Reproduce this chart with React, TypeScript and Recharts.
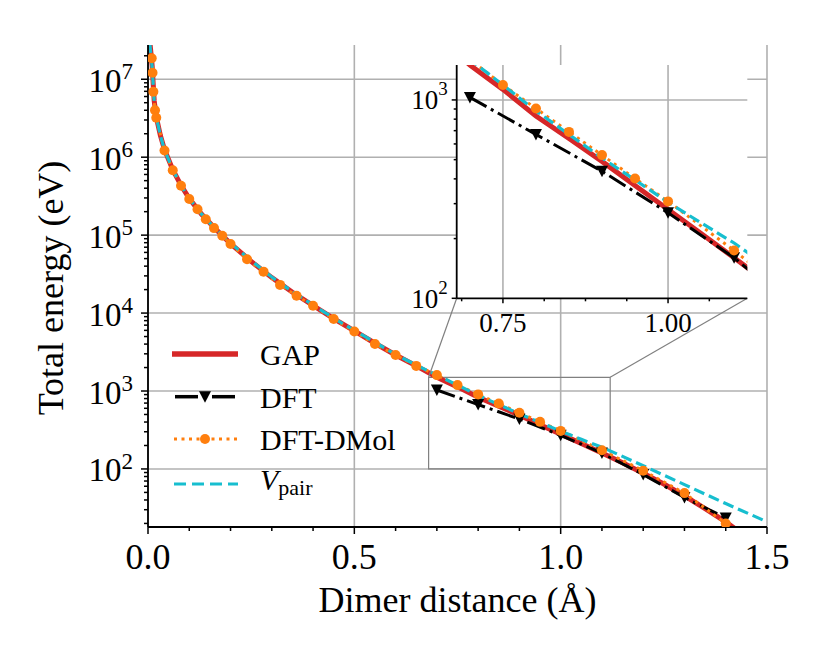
import React from "react";
import {
  ComposedChart,
  Line,
  XAxis,
  YAxis,
  CartesianGrid,
  ReferenceArea,
  ReferenceLine,
  Legend,
} from "recharts";

const SERIF = '"Liberation Serif", "Times New Roman", Times, serif';

// distance in Å, energy in eV
const gapDistance = [0.004, 0.01, 0.015, 0.02, 0.03, 0.04, 0.06, 0.08, 0.1, 0.13, 0.16, 0.2, 0.25, 0.3, 0.35, 0.4, 0.45, 0.5, 0.55, 0.6, 0.65, 0.7, 0.75, 0.8, 0.85, 0.9, 0.95, 1.0, 1.05, 1.1, 1.15, 1.2, 1.25, 1.3, 1.35, 1.4, 1.43];
const gapEnergy = [3.2e7, 1.5e7, 5.3e6, 3.3e6, 1.9e6, 1.25e6, 6.9e5, 4.35e5, 2.95e5, 1.85e5, 1.25e5, 7.8e4, 4.6e4, 2.85e4, 1.85e4, 1.25e4, 8.5e3, 5.9e3, 4.1e3, 2.9e3, 2.1e3, 1.5e3, 1.13e3, 830, 640, 490, 370, 280, 212, 160, 120, 88, 64, 45, 31, 21, 16];

const dftDistance = [0.7, 0.8, 0.9, 1.0, 1.1, 1.2, 1.3, 1.4];
const dftEnergy = [1030, 670, 437, 270, 160, 85, 43, 23.5];

const dmolDistance = [0.009, 0.011, 0.013, 0.017, 0.02, 0.04, 0.06, 0.08, 0.1, 0.12, 0.14, 0.16, 0.18, 0.2, 0.24, 0.28, 0.32, 0.36, 0.4, 0.45, 0.5, 0.55, 0.6, 0.65, 0.7, 0.75, 0.8, 0.85, 0.9, 0.95, 1.0, 1.1, 1.2, 1.3, 1.4];
const dmolEnergy = [1.86e7, 1.21e7, 6.9e6, 4.0e6, 3.2e6, 1.22e6, 6.8e5, 4.3e5, 2.9e5, 2.15e5, 1.6e5, 1.23e5, 9.8e4, 7.7e4, 4.9e4, 3.4e4, 2.3e4, 1.67e4, 1.24e4, 8.4e3, 5.8e3, 4.0e3, 2.9e3, 2.1e3, 1.6e3, 1.19e3, 905, 690, 527, 402, 308, 174, 95, 49, 20];

const vpairDistance = [0.004, 0.01, 0.015, 0.02, 0.03, 0.04, 0.06, 0.08, 0.1, 0.13, 0.16, 0.2, 0.25, 0.3, 0.35, 0.4, 0.45, 0.5, 0.55, 0.6, 0.65, 0.7, 0.75, 0.8, 0.85, 0.9, 0.95, 1.0, 1.05, 1.1, 1.15, 1.2, 1.3, 1.4, 1.5];
const vpairEnergy = [3.0e7, 1.45e7, 5.2e6, 3.3e6, 1.9e6, 1.24e6, 6.9e5, 4.35e5, 2.95e5, 1.86e5, 1.26e5, 7.9e4, 4.7e4, 2.9e4, 1.88e4, 1.27e4, 8.6e3, 6.0e3, 4.2e3, 2.95e3, 2.15e3, 1.6e3, 1.19e3, 880, 670, 510, 395, 305, 240, 190, 145, 110, 63, 36, 21];

const distanceTicks = [0, 0.1, 0.2, 0.3, 0.4, 0.5, 0.6, 0.7, 0.8, 0.9, 1.0, 1.1, 1.2, 1.3, 1.4, 1.5];
const distanceMajor = [0, 0.5, 1.0, 1.5];
const energyMajor = [1e2, 1e3, 1e4, 1e5, 1e6, 1e7];

const zoomDistanceTicks = [0.6875, 0.75, 0.8125, 0.875, 0.9375, 1.0, 1.0625];
const zoomDistanceMajor = [0.75, 1.0];
const zoomEnergyTicks = [100, 200, 300, 400, 500, 600, 700, 800, 900, 1000];
const zoomEnergyMajor = [100, 1000];

const distanceDomain = [0, 1.5];
const energyDomain = [18, 2.75e7];
const zoomDistanceDomain = [0.68, 1.12];
const zoomEnergyDomain = [100, 1500];

const zip = (xs: number[], ys: number[]) => xs.map((d, i) => ({ d, e: ys[i] }));
const gapData = zip(gapDistance, gapEnergy);
const dftData = zip(dftDistance, dftEnergy);
const dmolData = zip(dmolDistance, dmolEnergy);
const vpairData = zip(vpairDistance, vpairEnergy);

// log minor ticks 2..9 per decade inside the domain
const energyTicks = [1e1, 1e2, 1e3, 1e4, 1e5, 1e6, 1e7]
  .flatMap((dec) => [1, 2, 3, 4, 5, 6, 7, 8, 9].map((m) => m * dec))
  .filter((v) => v >= energyDomain[0] && v <= energyDomain[1]);

// layout of the main plot box and the inset box (page pixels)
const MAIN = { left: 148, top: 45, right: 767, bottom: 527 };
const INSET = { left: 380, top: 40, width: 400, height: 310, plotLeft: 456.7, plotTop: 65, plotRight: 747.3, plotBottom: 298.3 };

const mainX = (px: number) =>
  distanceDomain[0] + ((px - MAIN.left) / (MAIN.right - MAIN.left)) * (distanceDomain[1] - distanceDomain[0]);
const mainY = (py: number) => {
  const lo = Math.log10(energyDomain[0]);
  const hi = Math.log10(energyDomain[1]);
  return Math.pow(10, hi - ((py - MAIN.top) / (MAIN.bottom - MAIN.top)) * (hi - lo));
};

const near = (list: number[], v: number) => list.some((m) => Math.abs(m - v) < 1e-9 * Math.max(1, Math.abs(m)));

const bottomTick = (majors: number[], fmt: (v: number) => string, fontSize: number, majorLen: number, minorLen: number, baseline: number) =>
  (props: any) => {
    const { x, y, payload } = props;
    const v = payload.value;
    const major = near(majors, v);
    return (
      <g>
        <line x1={x} x2={x} y1={y} y2={y + (major ? majorLen : minorLen)} stroke="#000" strokeWidth={1.5} />
        {major && (
          <text x={x} y={y + baseline} textAnchor="middle" fontFamily={SERIF} fontSize={fontSize} fill="#000">
            {fmt(v)}
          </text>
        )}
      </g>
    );
  };

const leftLogTick = (majors: number[], baseSize: number, supSize: number, majorLen: number, minorLen: number, gap: number, base: number, sup: number) =>
  (props: any) => {
    const { x, y, payload } = props;
    const v = payload.value;
    const major = near(majors, v);
    return (
      <g>
        <line x1={x} x2={x - (major ? majorLen : minorLen)} y1={y} y2={y} stroke="#000" strokeWidth={1.5} />
        {major && (
          <text x={x - gap} y={y + base} textAnchor="end" fontFamily={SERIF} fill="#000">
            <tspan fontSize={baseSize}>10</tspan>
            <tspan fontSize={supSize} dy={sup - base}>{Math.round(Math.log10(v))}</tspan>
          </text>
        )}
      </g>
    );
  };

const triangleDot = (props: any) => {
  const { cx, cy, index } = props;
  if (cx == null || cy == null) return <g key={index} />;
  return <path key={index} d={`M${cx - 6},${cy - 5.5} L${cx + 6},${cy - 5.5} L${cx},${cy + 6} Z`} fill="#000" />;
};

const circleDot = (props: any) => {
  const { cx, cy, index } = props;
  if (cx == null || cy == null) return <g key={index} />;
  return <circle key={index} cx={cx} cy={cy} r={5} fill="#ff7f0e" />;
};

const XTitle = (props: any) => {
  const vb = props.viewBox || { x: 148, y: 527, width: 619 };
  return (
    <text x={vb.x + vb.width / 2} y={vb.y + 85} textAnchor="middle" fontFamily={SERIF} fontSize={36} fill="#000">
      Dimer distance (Å)
    </text>
  );
};

const YTitle = (props: any) => {
  const vb = props.viewBox || { y: 45, height: 482 };
  const cy = vb.y + vb.height / 2 + 2;
  return (
    <text x={63} y={cy} transform={`rotate(-90, 63, ${cy})`} textAnchor="middle" fontFamily={SERIF} fontSize={36} fill="#000">
      Total energy (eV)
    </text>
  );
};

const legendText = { fontFamily: SERIF, fontSize: 30, fill: "#000" };

const LegendBox = () => (
  <svg width={260} height={180} style={{ overflow: "visible", fontFamily: SERIF }}>
    <line x1={12} x2={78} y1={24} y2={24} stroke="#d62728" strokeWidth={5.5} />
    <text x={100} y={35} style={legendText}>GAP</text>

    <line x1={15} x2={38} y1={66.7} y2={66.7} stroke="#000" strokeWidth={3.5} />
    <line x1={52} x2={75} y1={66.7} y2={66.7} stroke="#000" strokeWidth={3.5} />
    <path d="M39,61.2 L51,61.2 L45,72.7 Z" fill="#000" />
    <text x={100} y={77.7} style={legendText}>DFT</text>

    <line x1={14} x2={78} y1={109} y2={109} stroke="#ff7f0e" strokeWidth={3} strokeDasharray="3 4.5" />
    <circle cx={45} cy={109} r={5} fill="#ff7f0e" />
    <text x={100} y={120} style={legendText}>DFT-DMol</text>

    <line x1={14} x2={78} y1={154} y2={154} stroke="#17becf" strokeWidth={3.2} strokeDasharray="12 6" />
    <text x={100} y={159.5} style={legendText}>
      <tspan fontStyle="italic">V</tspan>
      <tspan fontSize={22} dy={5.5}>pair</tspan>
    </text>
  </svg>
);

const seriesLines = () => [
  <Line key="gap" data={gapData} dataKey="e" name="GAP" type="linear" stroke="#d62728" strokeWidth={5} dot={false} isAnimationActive={false} />,
  <Line key="dft" data={dftData} dataKey="e" name="DFT" type="linear" stroke="#000" strokeWidth={3} strokeDasharray="19 5 3 5" dot={triangleDot} activeDot={false} isAnimationActive={false} />,
  <Line key="dmol" data={dmolData} dataKey="e" name="DFT-DMol" type="linear" stroke="#ff7f0e" strokeWidth={3} strokeDasharray="3 4.5" dot={circleDot} activeDot={false} isAnimationActive={false} />,
  <Line key="vpair" data={vpairData} dataKey="e" name="Vpair" type="linear" stroke="#17becf" strokeWidth={3.2} strokeDasharray="11 5" dot={false} isAnimationActive={false} />,
];

const spine = { stroke: "#000", strokeWidth: 1.8 };

export default function App() {
  return (
    <div style={{ position: "absolute", left: 0, top: 0, width: 830, height: 664, background: "#fff", fontFamily: SERIF }}>
      <ComposedChart width={830} height={664} margin={{ top: MAIN.top, right: 830 - MAIN.right, bottom: 0, left: 0 }}>
        <CartesianGrid horizontalValues={energyMajor} verticalValues={distanceMajor} stroke="#b0b0b0" strokeWidth={1.6} />
        <XAxis
          dataKey="d"
          type="number"
          domain={distanceDomain}
          allowDataOverflow
          ticks={distanceTicks}
          interval={0}
          height={664 - MAIN.bottom}
          tickSize={0}
          tickMargin={0}
          tickLine={false}
          axisLine={spine}
          tick={bottomTick(distanceMajor, (v) => v.toFixed(1), 36, 7, 4, 42)}
          label={<XTitle />}
        />
        <YAxis
          type="number"
          scale="log"
          domain={energyDomain}
          allowDataOverflow
          ticks={energyTicks}
          interval={0}
          width={MAIN.left}
          tickSize={0}
          tickMargin={0}
          tickLine={false}
          axisLine={spine}
          tick={leftLogTick(energyMajor, 33, 23, 7, 4, 15, 12.5, 0)}
          label={<YTitle />}
        />
        <XAxis xAxisId="top" orientation="top" type="number" domain={distanceDomain} allowDataOverflow height={0} tick={false} tickLine={false} axisLine={spine} />
        <YAxis yAxisId="right" orientation="right" type="number" domain={[0, 1]} width={0} tick={false} tickLine={false} axisLine={spine} />
        {seriesLines()}
        <ReferenceArea
          x1={zoomDistanceDomain[0]}
          x2={zoomDistanceDomain[1]}
          y1={zoomEnergyDomain[0]}
          y2={zoomEnergyDomain[1]}
          fill="none"
          stroke="#808080"
          strokeWidth={1.2}
          ifOverflow="visible"
        />
        <ReferenceLine
          segment={[
            { x: zoomDistanceDomain[0], y: zoomEnergyDomain[1] },
            { x: mainX(INSET.plotLeft), y: mainY(INSET.plotBottom) },
          ]}
          stroke="#808080"
          strokeWidth={1.2}
          ifOverflow="visible"
        />
        <ReferenceLine
          segment={[
            { x: zoomDistanceDomain[1], y: zoomEnergyDomain[1] },
            { x: mainX(INSET.plotRight), y: mainY(INSET.plotBottom) },
          ]}
          stroke="#808080"
          strokeWidth={1.2}
          ifOverflow="visible"
        />
        <Legend
          layout="vertical"
          align="center"
          verticalAlign="middle"
          wrapperStyle={{ left: 160, top: 330, width: 260, height: 180 }}
          content={() => <LegendBox />}
        />
      </ComposedChart>

      <div style={{ position: "absolute", left: INSET.left, top: INSET.top }}>
        <ComposedChart
          width={INSET.width}
          height={INSET.height}
          margin={{ top: INSET.plotTop - INSET.top, right: INSET.left + INSET.width - INSET.plotRight, bottom: 0, left: 0 }}
        >
          <CartesianGrid
            fill="#fff"
            fillOpacity={1}
            horizontalValues={[1000]}
            verticalValues={zoomDistanceMajor}
            stroke="#b0b0b0"
            strokeWidth={1.6}
          />
          <XAxis
            dataKey="d"
            type="number"
            domain={zoomDistanceDomain}
            allowDataOverflow
            ticks={zoomDistanceTicks}
            interval={0}
            height={INSET.top + INSET.height - INSET.plotBottom}
            tickSize={0}
            tickMargin={0}
            tickLine={false}
            axisLine={spine}
            tick={bottomTick(zoomDistanceMajor, (v) => v.toFixed(2), 27, 5, 3, 34)}
          />
          <YAxis
            type="number"
            scale="log"
            domain={zoomEnergyDomain}
            allowDataOverflow
            ticks={zoomEnergyTicks}
            interval={0}
            width={INSET.plotLeft - INSET.left}
            tickSize={0}
            tickMargin={0}
            tickLine={false}
            axisLine={spine}
            tick={leftLogTick(zoomEnergyMajor, 27, 19, 5, 3, 9, 9.5, -4.5)}
          />
          <XAxis xAxisId="top" orientation="top" type="number" domain={zoomDistanceDomain} allowDataOverflow height={0} tick={false} tickLine={false} axisLine={spine} />
          <YAxis yAxisId="right" orientation="right" type="number" domain={[0, 1]} width={0} tick={false} tickLine={false} axisLine={spine} />
          {seriesLines()}
        </ComposedChart>
      </div>
    </div>
  );
}
